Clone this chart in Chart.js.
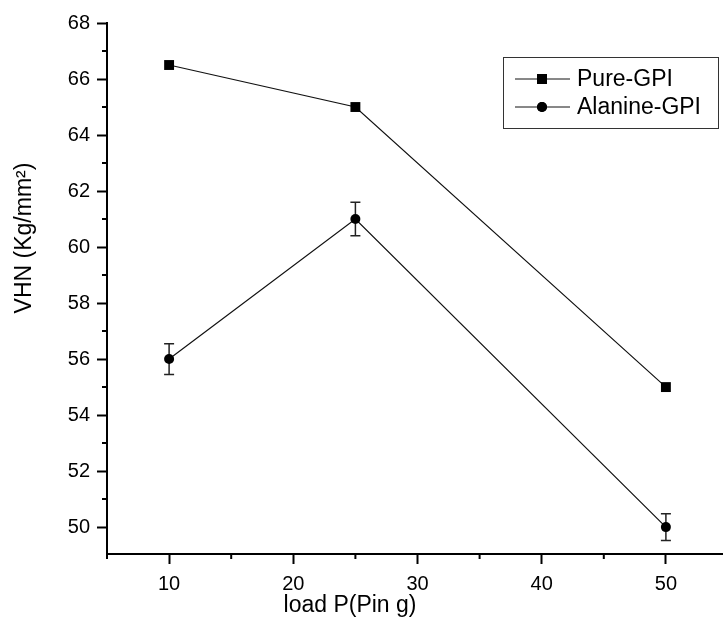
<!DOCTYPE html>
<html>
<head>
    <title>VHN vs load</title>
    <meta charset="UTF-8">
    <script src="https://cdn.jsdelivr.net/npm/chart.js"></script>
    <style>
        html, body {
            margin: 0;
            padding: 0;
            background: #fff;
            overflow: hidden;
        }
        #wrap {
            width: 735px;
            height: 628px;
        }
    </style>
</head>
<body>
    <div id="wrap">
        <canvas id="chart" width="735" height="628"></canvas>
    </div>

    <script>
        // dados
        const loads = [10, 25, 50];
        const pureGPI = [66.5, 65, 55];
        const alanineGPI = [56, 61, 50];
        const alanineErr = [0.55, 0.6, 0.48];

        const xTicks = [10, 20, 30, 40, 50];
        const xMinor = [5, 15, 25, 35, 45];
        const yTicks = [50, 52, 54, 56, 58, 60, 62, 64, 66, 68];
        const yMinor = [51, 53, 55, 57, 59, 61, 63, 65, 67];

        const seriesNames = ['Pure-GPI', 'Alanine-GPI'];
        const xTitle = 'load P(Pin g)';
        const yTitle = 'VHN (Kg/mm\u00B2)';

        const FONT = '"Liberation Sans", Arial, sans-serif';

        // marcas menores, barras de erro, títulos e legenda
        const extras = {
            id: 'extras',
            beforeDatasetsDraw(chart) {
                const ctx = chart.ctx;
                const y = chart.scales.y;
                const meta = chart.getDatasetMeta(1);
                ctx.save();
                ctx.strokeStyle = '#222';
                ctx.lineWidth = 1.5;
                meta.data.forEach((pt, i) => {
                    const top = y.getPixelForValue(alanineGPI[i] + alanineErr[i]);
                    const bot = y.getPixelForValue(alanineGPI[i] - alanineErr[i]);
                    ctx.beginPath();
                    ctx.moveTo(pt.x, top); ctx.lineTo(pt.x, bot);
                    ctx.moveTo(pt.x - 5, top); ctx.lineTo(pt.x + 5, top);
                    ctx.moveTo(pt.x - 5, bot); ctx.lineTo(pt.x + 5, bot);
                    ctx.stroke();
                });
                ctx.restore();
            },
            afterDraw(chart) {
                const ctx = chart.ctx;
                const xs = chart.scales.x, ys = chart.scales.y;
                ctx.save();
                ctx.strokeStyle = '#000';
                ctx.lineWidth = 2;
                ctx.beginPath();
                xMinor.forEach(v => {
                    const px = xs.getPixelForValue(v);
                    ctx.moveTo(px, xs.top); ctx.lineTo(px, xs.top + 5);
                });
                yMinor.forEach(v => {
                    const py = ys.getPixelForValue(v);
                    ctx.moveTo(ys.right, py); ctx.lineTo(ys.right - 5, py);
                });
                ctx.stroke();

                // títulos dos eixos
                ctx.fillStyle = '#000';
                ctx.font = '23px ' + FONT;
                ctx.textAlign = 'center';
                ctx.textBaseline = 'middle';
                ctx.fillText(xTitle, 350, 606);
                ctx.translate(25, 238);
                ctx.rotate(-Math.PI / 2);
                ctx.fillText(yTitle, 0, 0);
                ctx.restore();

                // legenda
                ctx.save();
                ctx.strokeStyle = '#333';
                ctx.lineWidth = 1;
                ctx.strokeRect(503.5, 57.5, 215, 71);
                const rows = [79, 107];
                chart.data.datasets.forEach((ds, i) => {
                    const ry = rows[i];
                    ctx.strokeStyle = '#111';
                    ctx.lineWidth = 1;
                    ctx.beginPath();
                    ctx.moveTo(515, ry); ctx.lineTo(570, ry);
                    ctx.stroke();
                    ctx.fillStyle = '#000';
                    Chart.helpers.drawPoint(ctx, {
                        pointStyle: ds.pointStyle, radius: ds.pointRadius, borderWidth: 0
                    }, 542, ry);
                    ctx.fill();
                    ctx.font = '23px ' + FONT;
                    ctx.textAlign = 'left';
                    ctx.textBaseline = 'middle';
                    ctx.fillText(ds.label, 577, ry + 1);
                });
                ctx.restore();
            }
        };

        new Chart(document.getElementById('chart'), {
            type: 'line',
            data: {
                datasets: [
                    {
                        label: seriesNames[0],
                        data: loads.map((x, i) => ({ x: x, y: pureGPI[i] })),
                        borderColor: '#111',
                        borderWidth: 1.2,
                        pointStyle: 'rect',
                        pointRadius: 7,
                        pointBackgroundColor: '#000',
                        pointBorderWidth: 0
                    },
                    {
                        label: seriesNames[1],
                        data: loads.map((x, i) => ({ x: x, y: alanineGPI[i] })),
                        borderColor: '#111',
                        borderWidth: 1.2,
                        pointStyle: 'circle',
                        pointRadius: 5,
                        pointBackgroundColor: '#000',
                        pointBorderWidth: 0
                    }
                ]
            },
            options: {
                responsive: false,
                animation: false,
                layout: {
                    padding: { top: 23, right: 5, left: 0, bottom: 0 }
                },
                plugins: {
                    legend: { display: false },
                    tooltip: { enabled: false }
                },
                scales: {
                    x: {
                        type: 'linear',
                        min: 5,
                        max: 55,
                        afterBuildTicks: s => { s.ticks = xTicks.map(v => ({ value: v })); },
                        afterFit: s => { s.height = 74; },
                        grid: {
                            drawOnChartArea: false,
                            tickLength: 10,
                            tickWidth: 2,
                            tickColor: '#000'
                        },
                        border: { color: '#000', width: 2 },
                        ticks: {
                            color: '#000',
                            padding: 8,
                            maxRotation: 0,
                            font: { family: FONT, size: 20 }
                        }
                    },
                    y: {
                        min: 49.04,
                        max: 68,
                        afterBuildTicks: s => { s.ticks = yTicks.map(v => ({ value: v })); },
                        afterFit: s => { s.width = 107; },
                        grid: {
                            drawOnChartArea: false,
                            tickLength: 10,
                            tickWidth: 2,
                            tickColor: '#000'
                        },
                        border: { color: '#000', width: 2 },
                        ticks: {
                            color: '#000',
                            padding: 7,
                            font: { family: FONT, size: 20 }
                        }
                    }
                }
            },
            plugins: [extras]
        });
    </script>
</body>
</html>
